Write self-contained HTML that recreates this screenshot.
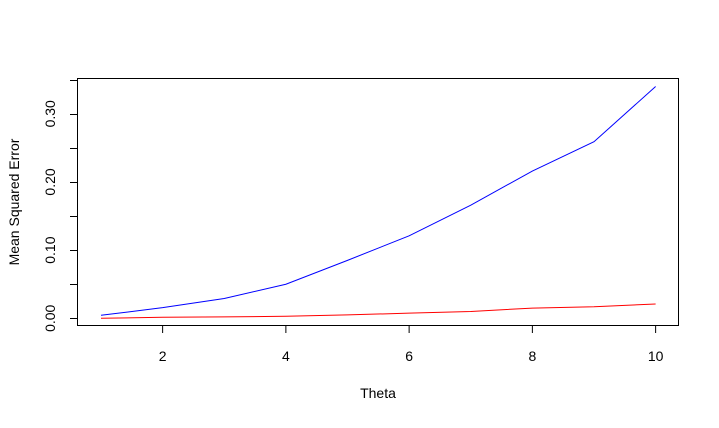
<!DOCTYPE html>
<html><head><meta charset="utf-8"><style>
body{margin:0;background:#fff}
svg text{font-family:"Liberation Sans",Arial,sans-serif;font-size:14px;fill:#000}
</style></head><body>
<svg id="chart" width="719" height="423" viewBox="0 0 719 423" xmlns="http://www.w3.org/2000/svg">
<rect x="77.5" y="78.5" width="601" height="247" fill="none" stroke="#000" stroke-width="1"/>
<g id="axes"></g>
<text x="378" y="398" text-anchor="middle">Theta</text>
<text transform="translate(19,202) rotate(-90)" text-anchor="middle">Mean Squared Error</text>
<g id="series"></g>
</svg>
<script>
const thetas=[1,2,3,4,5,6,7,8,9,10];
const blueValues=[0.0044,0.0156,0.029,0.050,0.085,0.121,0.166,0.216,0.259,0.340];
const redValues=[0,0.0015,0.002,0.003,0.005,0.0075,0.010,0.015,0.017,0.021];
const xTicks=[2,4,6,8,10];
const yTicks=[0,0.05,0.10,0.15,0.20,0.25,0.30,0.35];
const yTickLabels=["0.00","","0.10","","0.20","","0.30",""];
const NS="http://www.w3.org/2000/svg";
function xs(v){return 101+(v-1)*(656-163)/8;}
function ys(v){return 318.3-v*(318.3-79.7)/0.35;}
const axes=document.getElementById('axes');
function mk(tag,attrs,parent){const e=document.createElementNS(NS,tag);for(const k in attrs)e.setAttribute(k,attrs[k]);parent.appendChild(e);return e;}
xTicks.forEach(t=>{
  const l=mk('line',{x1:xs(t),x2:xs(t),y1:325.5,y2:333,stroke:'#000'},axes);
  
  
  const tx=mk('text',{x:xs(t),y:361,'text-anchor':'middle'},axes);
  tx.textContent=t;
  
  
});
yTicks.forEach((t,i)=>{
  const y=Math.round(ys(t))+0.5;
  const l=mk('line',{x1:70,x2:77.5,y1:y,y2:y,stroke:'#000'},axes);
  
  
  if(yTickLabels[i]){
    const tx=mk('text',{transform:`translate(55,${ys(t)}) rotate(-90)`,'text-anchor':'middle'},axes);
    tx.textContent=yTickLabels[i];
    
    
  }
});
const series=document.getElementById('series');
function line(vals,color,name){
  const pts=thetas.map((t,i)=>xs(t)+','+ys(vals[i])).join(' ');
  const p=mk('polyline',{points:pts,fill:'none',stroke:color,'stroke-width':1},series);
  
  
}
line(blueValues,'#0000ff','blue-series-line');
line(redValues,'#ff0000','red-series-line');
</script>
</body></html>
